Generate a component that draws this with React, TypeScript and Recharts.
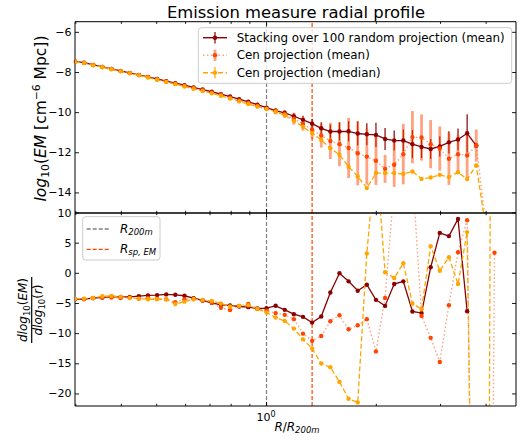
import React from 'react';
import { ComposedChart, Line, XAxis, YAxis, ReferenceLine, ErrorBar } from 'recharts';

const FONT = '"DejaVu Sans", sans-serif';

// Radii (R / R200m), log-spaced bins
const R = [0.2985, 0.3162, 0.335, 0.3548, 0.3758, 0.3981, 0.4217, 0.4467, 0.4732, 0.5012, 0.5309, 0.5623, 0.5957, 0.631, 0.6683, 0.7079, 0.7499, 0.7943, 0.8414, 0.8913, 0.9441, 1.0,
  1.0593, 1.122, 1.1885, 1.2589, 1.3335, 1.4125, 1.4962, 1.5849, 1.6788, 1.7783, 1.8836, 1.9953, 2.1135, 2.2387, 2.3714, 2.5119, 2.6607, 2.8184, 2.9854, 3.1623, 3.3497, 3.5481, 3.7584, 3.9811, 4.217];

// Top panel: log10(EM)
const stackMean = [-7.45, -7.51, -7.62, -7.72, -7.82, -7.92, -8.02, -8.12, -8.22, -8.32, -8.43, -8.53, -8.63, -8.74, -8.85, -8.96, -9.08, -9.2, -9.33, -9.46, -9.6, -9.75,
  -9.9, -10.01, -10.18, -10.36, -10.55, -10.78, -10.94, -10.94, -10.93, -11.04, -11.08, -11.11, -11.31, -11.39, -11.39, -11.57, -11.71, -11.81, -11.68, -11.48, -11.34, -11.03, -11.64, null, null];
const stackErr = [0.05, 0.05, 0.05, 0.05, 0.05, 0.05, 0.05, 0.05, 0.05, 0.05, 0.05, 0.05, 0.06, 0.06, 0.06, 0.07, 0.07, 0.07, 0.08, 0.08, 0.09, 0.1,
  0.1, 0.12, 0.15, 0.2, 0.25, 0.3, 0.35, 0.45, 0.5, 0.6, 0.55, 0.6, 0.55, 0.5, 0.55, 0.7, 0.55, 0.5, 0.5, 0.55, 0.55, 0.95, 0, null, null];
const cenMean = [-7.45, -7.52, -7.63, -7.73, -7.83, -7.93, -8.03, -8.13, -8.23, -8.34, -8.45, -8.56, -8.66, -8.77, -8.88, -8.99, -9.11, -9.25, -9.39, -9.52, -9.66, -9.8,
  -9.93, -10.06, -10.3, -10.55, -10.85, -11.14, -11.41, -11.57, -11.76, -12.02, -12.19, -12.4, -12.8, -12.6, -12.07, -11.22, -11.24, -11.57, -11.79, -12.3, -12.07, -12.13, -11.64, -15.4, null];
const cenMeanErr = [0.08, 0.08, 0.08, 0.08, 0.08, 0.08, 0.08, 0.08, 0.08, 0.08, 0.09, 0.09, 0.1, 0.1, 0.1, 0.1, 0.1, 0.11, 0.11, 0.12, 0.12, 0.12,
  0.15, 0.2, 0.3, 0.35, 0.45, 0.6, 0.9, 1.1, 1.5, 1.6, 1.4, 1.2, 0.7, 1.1, 1.5, 1.3, 1.15, 1.2, 1.1, 1.3, 0.95, 1.2, 0.8, 0, null];
const cenMed = [-7.46, -7.53, -7.64, -7.74, -7.84, -7.94, -8.04, -8.14, -8.25, -8.36, -8.47, -8.58, -8.7, -8.81, -8.92, -9.04, -9.16, -9.3, -9.44, -9.57, -9.7, -9.82,
  -9.95, -10.13, -10.41, -10.7, -11.03, -11.36, -11.77, -12.1, -12.69, -13.18, -13.76, -13.01, -13.01, -13.01, -13.06, -12.93, -13.3, -13.23, -13.1, -13.21, -12.97, -13.31, -12.63, -15.6, null];
const cenMedErr = [0.08, 0.08, 0.08, 0.08, 0.08, 0.08, 0.08, 0.08, 0.08, 0.08, 0.08, 0.08, 0.08, 0.08, 0.08, 0.08, 0.08, 0.08, 0.08, 0.08, 0.08, 0.08,
  0.1, 0.1, 0.12, 0.12, 0.12, 0, 0, 0, 0, 0, 0, 0, 0, 0, 0, 0, 0, 0, 0, 0, 0, 0, 0, 0, null];

// Bottom panel: d log10(EM) / d log10(r)
const stackDeriv = [-4.28, -4.28, -4.12, -4.0, -3.9, -3.9, -3.9, -3.78, -3.67, -3.61, -3.5, -3.56, -3.72, -4.12, -4.5, -4.89, -5.22, -5.33, -5.5, -5.61, -5.83, -5.78,
  -5.39, -6.06, -6.78, -7.22, -8.17, -7.17, -3.17, 0.0, -1.33, -2.89, -1.89, -4.4, -5.4, -1.78, -1.33, -6.33, -6.6, 1.0, 6.7, 6.17, 9.0, -6.3, null, null, null];
const cenMeanDeriv = [-4.3, -4.25, -4.1, -4.0, -4.0, -4.1, -4.0, -4.2, -4.1, -4.2, -4.3, -4.8, -4.3, -4.2, -4.5, -4.9, -5.7, -6.1, -5.4, -5.1, -5.9, -6.2,
  -6.6, -6.89, -7.6, -10.0, -11.2, -10.4, -7.95, -6.95, -9.28, -8.6, -7.6, -12.95, -4.1, 14.6, 27.6, 16.6, -7.06, -10.7, -14.7, -5.3, 3.5, 8.8, -100, -200, 3.4];
const cenMedDeriv = [-4.2, -4.2, -4.1, -3.8, -3.75, -3.9, -4.1, -4.2, -4.3, -4.3, -4.3, -5.1, -4.7, -4.3, -4.4, -4.6, -5.0, -5.5, -5.4, -5.3, -5.9, -6.5,
  -7.33, -7.9, -9.17, -10.95, -12.45, -14.95, -15.56, -18.0, -20.8, -21.4, 3.3, 20, 0.17, -0.78, 1.67, -5.0, -5.95, 4.5, 0.43, 2.67, -1.78, 6.83, -100, -200, 200];

const X_DOMAIN = [0.2985, 4.83];
const X_TICKS = [0.3, 0.4, 0.5, 0.6, 0.7, 0.8, 0.9, 1, 2, 3, 4];
const TOP_Y_DOMAIN = [-15, -5.47];
const TOP_Y_TICKS = [-14, -12, -10, -8, -6];
const BOT_Y_DOMAIN = [-22, 10];
const BOT_Y_TICKS = [-20, -15, -10, -5, 0, 5, 10];
const R_200M = 1;
const R_SP = 1.3335;

const rows = R.map((r, i) => ({
  r,
  stack: stackMean[i], stackErr: stackErr[i],
  mean: cenMean[i], meanErr: cenMeanErr[i],
  med: cenMed[i], medErr: cenMedErr[i],
  dStack: stackDeriv[i], dMean: cenMeanDeriv[i], dMed: cenMedDeriv[i],
}));

const C_STACK = '#8b0000';
const C_MEAN = '#ff4500';
const C_MED = '#ffa500';
const C_GREY = '#808080';
const AXC = '#000';

const fmt = (v: number) => (v < 0 ? '\u2212' + Math.abs(v) : String(v));

const LeftTick = (p: any) => (
  <g>
    <line x1={p.x} x2={p.x + 4} y1={p.y} y2={p.y} stroke={AXC} strokeWidth={0.9} />
    <text x={p.x - 3.5} y={p.y} textAnchor="end" dominantBaseline="central" fontSize={11} fontFamily={FONT} fill="#000">{fmt(p.payload.value)}</text>
  </g>
);
const RightTick = (p: any) => (
  <line x1={p.x} x2={p.x - 4} y1={p.y} y2={p.y} stroke={AXC} strokeWidth={0.9} />
);
const isMajor = (v: number) => Math.abs(v - 1) < 1e-9;
const makeBottomTick = (withLabel: boolean) => (p: any) => {
  const v = p.payload.value;
  const len = isMajor(v) ? 4 : 2.2;
  return (
    <g>
      <line x1={p.x} x2={p.x} y1={p.y} y2={p.y - len} stroke={AXC} strokeWidth={0.9} />
      {withLabel && isMajor(v) ? (
        <text x={p.x - 0.5} y={p.y + 15} textAnchor="middle" fontSize={11} fontFamily={FONT} fill="#000">10<tspan dy={-4.5} fontSize={8}>0</tspan></text>
      ) : null}
    </g>
  );
};
const TopTick = (p: any) => {
  const v = p.payload.value;
  const len = isMajor(v) ? 4 : 2.2;
  return <line x1={p.x} x2={p.x} y1={p.y} y2={p.y + len} stroke={AXC} strokeWidth={0.9} />;
};

const axisLine = { stroke: AXC, strokeWidth: 1 };

const xCommon = {
  dataKey: 'r', type: 'number' as const, scale: 'log' as const, domain: X_DOMAIN, allowDataOverflow: true,
  ticks: X_TICKS, interval: 0 as const, tickSize: 0, tickMargin: 0, tickLine: false, axisLine,
};

function TopPanel() {
  return (
    <ComposedChart width={524} height={443} data={rows} margin={{ top: 20.7, right: 7, bottom: 229, left: 74 }}>
      <XAxis xAxisId={0} {...xCommon} height={1} tick={makeBottomTick(false)} />
      <XAxis xAxisId="top" orientation="top" {...xCommon} height={1} tick={TopTick} />
      <YAxis yAxisId={0} type="number" domain={TOP_Y_DOMAIN} allowDataOverflow ticks={TOP_Y_TICKS} interval={0} width={1} tickSize={0} tickMargin={0} tickLine={false} axisLine={axisLine} tick={LeftTick} />
      <YAxis yAxisId="right" orientation="right" type="number" domain={TOP_Y_DOMAIN} allowDataOverflow ticks={TOP_Y_TICKS} interval={0} width={1} tickSize={0} tickMargin={0} tickLine={false} axisLine={axisLine} tick={RightTick} />
      <ReferenceLine x={R_200M} stroke={C_GREY} strokeDasharray="4 2" strokeWidth={1.2} />
      <ReferenceLine x={R_SP} stroke={C_MEAN} strokeDasharray="4 2" strokeWidth={1.2} />
      <Line dataKey="stack" stroke={C_STACK} strokeWidth={1.3} dot={{ r: 2.2, fill: C_STACK, stroke: 'none' }} isAnimationActive={false} connectNulls={false}>
        <ErrorBar dataKey="stackErr" width={0} stroke={C_STACK} strokeWidth={1.2} direction="y" />
      </Line>
      <Line dataKey="mean" stroke={C_MEAN} strokeOpacity={0.5} strokeDasharray="1.5 2.4" strokeWidth={1.4} dot={{ r: 2.2, fill: C_MEAN, stroke: 'none', strokeDasharray: '' }} isAnimationActive={false} connectNulls={false}>
        <ErrorBar dataKey="meanErr" width={0} stroke={C_MEAN} strokeOpacity={0.5} strokeWidth={2.8} direction="y" />
      </Line>
      <Line dataKey="med" stroke={C_MED} strokeDasharray="5 2.5" strokeWidth={1.3} dot={{ r: 2.2, fill: C_MED, stroke: 'none', strokeDasharray: '' }} isAnimationActive={false} connectNulls={false}>
        <ErrorBar dataKey="medErr" width={0} stroke={C_MED} strokeWidth={1.2} direction="y" />
      </Line>
    </ComposedChart>
  );
}

function BottomPanel() {
  return (
    <ComposedChart width={524} height={443} data={rows} margin={{ top: 212, right: 7, bottom: 36, left: 74 }}>
      <XAxis xAxisId={0} {...xCommon} height={1} tick={makeBottomTick(true)} />
      <XAxis xAxisId="top" orientation="top" {...xCommon} height={1} tick={TopTick} />
      <YAxis yAxisId={0} type="number" domain={BOT_Y_DOMAIN} allowDataOverflow ticks={BOT_Y_TICKS} interval={0} width={1} tickSize={0} tickMargin={0} tickLine={false} axisLine={axisLine} tick={LeftTick} />
      <YAxis yAxisId="right" orientation="right" type="number" domain={BOT_Y_DOMAIN} allowDataOverflow ticks={BOT_Y_TICKS} interval={0} width={1} tickSize={0} tickMargin={0} tickLine={false} axisLine={axisLine} tick={RightTick} />
      <ReferenceLine x={R_200M} stroke={C_GREY} strokeDasharray="4 2" strokeWidth={1.2} />
      <ReferenceLine x={R_SP} stroke={C_MEAN} strokeDasharray="4 2" strokeWidth={1.2} />
      <Line dataKey="dStack" stroke={C_STACK} strokeWidth={1.3} dot={{ r: 2.2, fill: C_STACK, stroke: 'none' }} isAnimationActive={false} connectNulls={false} />
      <Line dataKey="dMean" stroke={C_MEAN} strokeOpacity={0.5} strokeDasharray="1.5 2.4" strokeWidth={1.4} dot={{ r: 2.2, fill: C_MEAN, stroke: 'none', strokeDasharray: '' }} isAnimationActive={false} connectNulls={false} />
      <Line dataKey="dMed" stroke={C_MED} strokeDasharray="5 2.5" strokeWidth={1.3} dot={{ r: 2.2, fill: C_MED, stroke: 'none', strokeDasharray: '' }} isAnimationActive={false} connectNulls={false} />
    </ComposedChart>
  );
}

const LEGEND_TOP = [
  { label: 'Stacking over 100 random projection (mean)', color: C_STACK, dash: '', op: 1, barW: 1.2 },
  { label: 'Cen projection (mean)', color: C_MEAN, dash: '1.5 2.4', op: 0.5, barW: 2.8 },
  { label: 'Cen projection (median)', color: C_MED, dash: '5 2.5', op: 1, barW: 1.2 },
];

function Overlay() {
  const rowsY = [37.7, 55.3, 72.7];
  return (
    <svg width={524} height={443} style={{ position: 'absolute', left: 0, top: 0, pointerEvents: 'none' }} fontFamily={FONT}>
      <text x={296} y={17.5} textAnchor="middle" fontSize={16.4} fill="#000">Emission measure radial profile</text>
      {/* top legend */}
      <rect x={198.3} y={27.7} width={313.4} height={55.6} rx={3} fill="#fff" fillOpacity={0.8} stroke="#cccccc" strokeWidth={1} />
      {LEGEND_TOP.map((e, i) => (
        <g key={i}>
          <line x1={203} x2={227} y1={rowsY[i]} y2={rowsY[i]} stroke={e.color} strokeOpacity={e.op} strokeWidth={1.4} strokeDasharray={e.dash || undefined} />
          <line x1={215} x2={215} y1={rowsY[i] - 5.7} y2={rowsY[i] + 5.7} stroke={e.color} strokeOpacity={e.op} strokeWidth={e.barW} />
          <circle cx={215} cy={rowsY[i]} r={2.2} fill={e.color} />
          <text x={236.7} y={rowsY[i]} dominantBaseline="central" fontSize={11.9} fill="#000">{e.label}</text>
        </g>
      ))}
      {/* bottom legend */}
      <rect x={82.7} y={216.7} width={77.3} height={43.3} rx={3} fill="#fff" fillOpacity={0.8} stroke="#cccccc" strokeWidth={1} />
      <line x1={86.7} x2={110} y1={229} y2={229} stroke={C_GREY} strokeWidth={1.3} strokeDasharray="4 2" />
      <text x={120} y={229} dominantBaseline="central" fontSize={11.9} fill="#000"><tspan fontStyle="italic">R</tspan><tspan fontSize={8.5} dy={2.5} fontStyle="italic">200m</tspan></text>
      <line x1={86.7} x2={110} y1={249.3} y2={249.3} stroke={C_MEAN} strokeWidth={1.3} strokeDasharray="4 2" />
      <text x={120} y={249.3} dominantBaseline="central" fontSize={11.9} fill="#000"><tspan fontStyle="italic">R</tspan><tspan fontSize={8.5} dy={2.5} fontStyle="italic">sp, EM</tspan></text>
      {/* y label top */}
      <text transform="translate(46,118.5) rotate(-90)" textAnchor="middle" fontSize={15.5} fill="#000">
        <tspan fontStyle="italic">log</tspan><tspan fontSize={10.8} dy={3.2}>10</tspan><tspan dy={-3.2}>(</tspan><tspan fontStyle="italic">EM</tspan><tspan> [cm</tspan><tspan fontSize={10.8} dy={-6.5}>{'\u2212'}6</tspan><tspan dy={6.5}> Mpc])</tspan>
      </text>
      {/* y label bottom: fraction */}
      <g transform="translate(31.7,310) rotate(-90)">
        <text x={0} y={-4.5} textAnchor="middle" fontSize={12} fill="#000">
          <tspan fontStyle="italic">dlog</tspan><tspan fontSize={8.5} dy={2.5}>10</tspan><tspan dy={-2.5}>(</tspan><tspan fontStyle="italic">EM</tspan><tspan>)</tspan>
        </text>
        <line x1={-33} x2={33} y1={0} y2={0} stroke="#000" strokeWidth={1.2} />
        <text x={0} y={10.5} textAnchor="middle" fontSize={12} fill="#000">
          <tspan fontStyle="italic">dlog</tspan><tspan fontSize={8.5} dy={2.5}>10</tspan><tspan dy={-2.5}>(</tspan><tspan fontStyle="italic">r</tspan><tspan>)</tspan>
        </text>
      </g>
      {/* x label */}
      <text x={297} y={430.5} textAnchor="middle" fontSize={12} fill="#000">
        <tspan fontStyle="italic">R</tspan><tspan>/</tspan><tspan fontStyle="italic">R</tspan><tspan fontSize={8.5} dy={2.5} fontStyle="italic">200m</tspan>
      </text>
    </svg>
  );
}

export default function App() {
  return (
    <div style={{ position: 'absolute', left: 0, top: 0, width: 524, height: 443, background: '#fff' }}>
      <div style={{ position: 'absolute', left: 0, top: 0 }}><TopPanel /></div>
      <div style={{ position: 'absolute', left: 0, top: 0 }}><BottomPanel /></div>
      <Overlay />
    </div>
  );
}
